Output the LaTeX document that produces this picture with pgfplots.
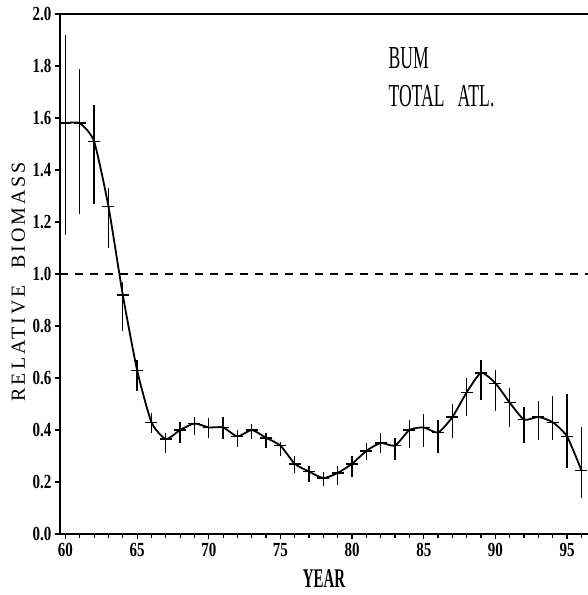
\documentclass[border=0pt]{standalone}
\usepackage{fontspec}
\usepackage{pgfplots}
\pgfplotsset{compat=1.18}
\setmainfont{Liberation Serif}
\newfontfamily\condfont[FakeStretch=0.75]{Liberation Serif}
\newfontfamily\narrowfont[FakeStretch=0.55]{Liberation Serif}
\newfontfamily\widefont[LetterSpace=15]{Liberation Serif}

\begin{document}
\begin{tikzpicture}
\begin{axis}[
    name=ax,
    scale only axis,
    width=528pt, height=520pt,
    xmin=59.62, xmax=96.46,
    ymin=0, ymax=2,
    axis lines=left,
    axis line style={line width=1.6pt, -},
    xtick={60,65,...,95},
    minor xtick={61,62,63,64,66,67,68,69,71,72,73,74,76,77,78,79,81,82,83,84,86,87,88,89,91,92,93,94,96},
    ytick={0,0.2,...,2.01},
    tick align=outside,
    major tick length=5pt, minor tick length=4pt,
    every tick/.style={black, line width=1.2pt},
    /pgf/number format/assume math mode=true,
    yticklabel style={/pgf/number format/.cd, fixed, fixed zerofill, precision=1},
    ticklabel style={font=\condfont\bfseries\fontsize{20}{20}\selectfont},
    xticklabel style={yshift=-1pt},
    xlabel={\narrowfont\bfseries\fontsize{27}{27}\selectfont YEAR},
    ylabel={\widefont\fontsize{20}{20}\selectfont RELATIVE\ \ BIOMASS},
    every axis x label/.style={at={(axis description cs:0.5,-0.0856)}, anchor=center},
    every axis y label/.style={at={(axis description cs:-0.079,0.485)}, rotate=90, anchor=center},
    clip=false,
]
% reference level
\addplot[black, line width=1.4pt, dash pattern=on 8pt off 7pt] coordinates {(59.62,1) (96.46,1)};

% relative biomass with asymmetric confidence bars
\addplot[black, line width=1.8pt, smooth, tension=0.35,
    mark=-, mark size=6pt, mark options={line width=1.4pt, solid},
    error bars/.cd, y dir=both, y explicit,
    error mark=none, error bar style={line width=1.3pt}]
coordinates {
    (60,1.58)  += (0,0.34)  -= (0,0.43)
    (61,1.58)  += (0,0.21)  -= (0,0.35)
    (62,1.51)  += (0,0.14)  -= (0,0.24)
    (63,1.26)  += (0,0.07)  -= (0,0.16)
    (64,0.92)  += (0,0.05)  -= (0,0.14)
    (65,0.63)  += (0,0.04)  -= (0,0.08)
    (66,0.43)  += (0,0.035) -= (0,0.04)
    (67,0.365) += (0,0.025) -= (0,0.055)
    (68,0.40)  += (0,0.03)  -= (0,0.05)
    (69,0.425) += (0,0.025) -= (0,0.045)
    (70,0.41)  += (0,0.035) -= (0,0.04)
    (71,0.41)  += (0,0.04)  -= (0,0.045)
    (72,0.375) += (0,0.025) -= (0,0.04)
    (73,0.40)  += (0,0.025) -= (0,0.035)
    (74,0.37)  += (0,0.02)  -= (0,0.04)
    (75,0.34)  += (0,0.015) -= (0,0.04)
    (76,0.27)  += (0,0.03)  -= (0,0.035)
    (77,0.24)  += (0,0.02)  -= (0,0.04)
    (78,0.215) += (0,0.025) -= (0,0.03)
    (79,0.235) += (0,0.025) -= (0,0.045)
    (80,0.27)  += (0,0.03)  -= (0,0.05)
    (81,0.32)  += (0,0.03)  -= (0,0.035)
    (82,0.35)  += (0,0.04)  -= (0,0.04)
    (83,0.34)  += (0,0.03)  -= (0,0.055)
    (84,0.40)  += (0,0.04)  -= (0,0.07)
    (85,0.41)  += (0,0.05)  -= (0,0.075)
    (86,0.39)  += (0,0.05)  -= (0,0.08)
    (87,0.45)  += (0,0.05)  -= (0,0.08)
    (88,0.545) += (0,0.055) -= (0,0.09)
    (89,0.62)  += (0,0.05)  -= (0,0.105)
    (90,0.58)  += (0,0.05)  -= (0,0.105)
    (91,0.505) += (0,0.055) -= (0,0.095)
    (92,0.44)  += (0,0.05)  -= (0,0.09)
    (93,0.45)  += (0,0.06)  -= (0,0.09)
    (94,0.43)  += (0,0.10)  -= (0,0.07)
    (95,0.375) += (0,0.165) -= (0,0.12)
    (96,0.245) += (0,0.165) -= (0,0.105)
};

% top frame line
\draw[line width=1.6pt] (rel axis cs:0,1) -- (rel axis cs:1,1);

\node[anchor=base west, font=\narrowfont\fontsize{32}{32}\selectfont] at (axis cs:82.3,1.79) {BUM};
\node[anchor=base west, font=\narrowfont\fontsize{32}{32}\selectfont] at (axis cs:82.3,1.645) {TOTAL\ \ \ ATL.};
\end{axis}
\pgfresetboundingbox
\path ([xshift=-60pt,yshift=-61pt]ax.south west) rectangle ([yshift=14pt]ax.north east);
\end{tikzpicture}
\end{document}
